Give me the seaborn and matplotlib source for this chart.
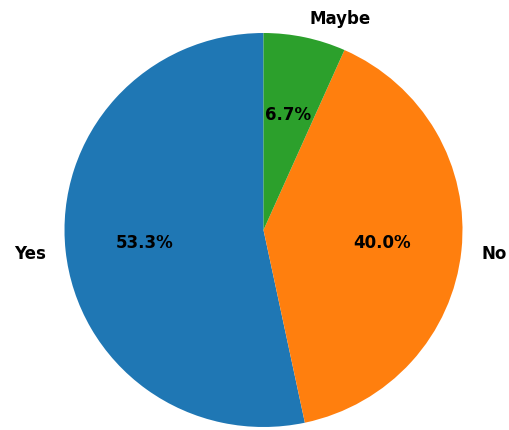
import matplotlib
matplotlib.use("Agg")
import matplotlib.pyplot as plt
import seaborn as sns

labels = ["Yes", "No", "Maybe"]
counts = [8, 6, 1]

sns.set_theme(style="white")
plt.rcParams['font.family'] = ['DejaVu Sans']
colors = sns.color_palette("tab10", 3)

fig = plt.figure(figsize=(5.09, 4.31), dpi=100)
rx, ry = 199, 197
cx, cy = 263.5, 231
ax = fig.add_axes([(cx - rx) / 509, (431 - cy - ry) / 431, 2 * rx / 509, 2 * ry / 431])
ax.pie(counts, labels=labels, colors=colors, autopct="%1.1f%%", startangle=90,
       wedgeprops={"linewidth": 0, "edgecolor": "none"},
       textprops={"fontsize": 12, "fontweight": "bold", "color": "black"})
ax.set_xlim(-1, 1)
ax.set_ylim(-1, 1)
ax.set_aspect("auto")
fig.savefig("out.png", dpi=100)
